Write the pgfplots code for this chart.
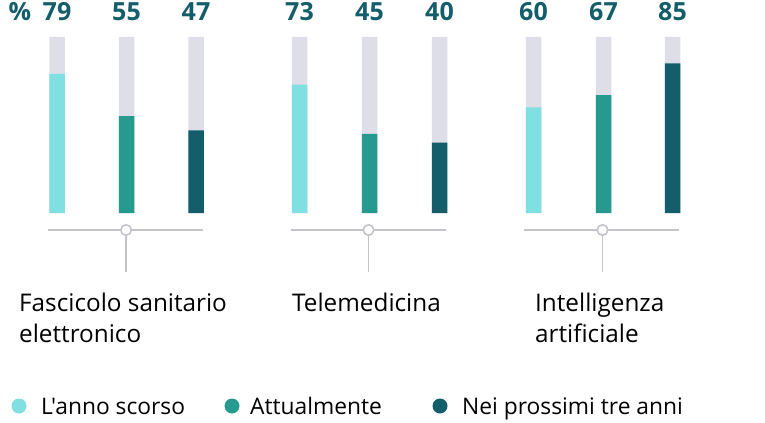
\documentclass[border=0pt]{standalone}
\usepackage{pgfplots}
\pgfplotsset{compat=1.18}
\usepackage{fontspec}
\setmainfont{Open Sans}
\newfontfamily\legfont{Open Sans}[Ligatures=TeXOff]
\definecolor{cLight}{HTML}{80DFE0}
\definecolor{cMid}{HTML}{269A8E}
\definecolor{cDark}{HTML}{135E6A}
\definecolor{cBg}{HTML}{DEDEE8}
\definecolor{cLine}{HTML}{C4C4CF}
\begin{document}
\begin{tikzpicture}[x=1bp,y=1bp]
\path (0,0) rectangle (765,422);
\begin{axis}[
  at={(0bp,209bp)}, anchor=south west, scale only axis,
  width=765bp, height=176bp,
  xmin=0, xmax=765, ymin=0, ymax=100,
  axis lines=none, clip=false,
  ybar, bar width=15.5bp,
  /pgf/number format/assume math mode=true,
]
% background bars (100) carrying the value labels
\addplot[fill=cBg, draw=none, bar shift=0pt, point meta=explicit,
  nodes near coords,
  every node near coord/.append style={anchor=base, yshift=16bp, inner sep=0pt,
    font=\fontsize{25bp}{25bp}\selectfont\bfseries, text=cDark}]
  coordinates {(57,100)[79] (126.5,100)[55] (196,100)[47]
               (299.5,100)[73] (369.5,100)[45] (439.5,100)[40]
               (533.5,100)[60] (603.5,100)[67] (672.5,100)[85]};
\addplot[fill=cLight, draw=none, bar shift=0pt]
  coordinates {(57,79) (299.5,73) (533.5,60)};
\addplot[fill=cMid, draw=none, bar shift=0pt]
  coordinates {(126.5,55) (369.5,45) (603.5,67)};
\addplot[fill=cDark, draw=none, bar shift=0pt]
  coordinates {(196,47) (439.5,40) (672.5,85)};
% percent sign
\node[anchor=base, yshift=16bp, inner sep=0pt, font=\fontsize{25bp}{25bp}\selectfont\bfseries, text=cDark] at (axis cs:20,100) {\%};
% brackets
\draw[cLine, line width=1.6bp] (axis cs:48,-9.66) -- (axis cs:203,-9.66);
\draw[cLine, line width=1.6bp] (axis cs:126,-9.66) -- (axis cs:126,-33.5);
\draw[cLine, line width=1.6bp, fill=white] (axis cs:126,-9.66) circle[radius=5.3bp];
\draw[cLine, line width=1.6bp] (axis cs:291,-9.66) -- (axis cs:446,-9.66);
\draw[cLine, line width=1.6bp] (axis cs:368.5,-9.66) -- (axis cs:368.5,-33.5);
\draw[cLine, line width=1.6bp, fill=white] (axis cs:368.5,-9.66) circle[radius=5.3bp];
\draw[cLine, line width=1.6bp] (axis cs:524,-9.66) -- (axis cs:679,-9.66);
\draw[cLine, line width=1.6bp] (axis cs:602.5,-9.66) -- (axis cs:602.5,-33.5);
\draw[cLine, line width=1.6bp, fill=white] (axis cs:602.5,-9.66) circle[radius=5.3bp];
\end{axis}
% category labels
\begin{scope}[every node/.style={anchor=base west, inner sep=0pt, font=\fontsize{24.3bp}{24.3bp}\selectfont}]
\node at (19,111) {Fascicolo sanitario};
\node at (19,80) {elettronico};
\node at (292,111) {Telemedicina};
\node at (535,111) {Intelligenza};
\node at (535,80) {artificiale};
\end{scope}
% legend
\begin{scope}[every node/.style={anchor=base west, inner sep=0pt, font=\legfont\fontsize{22.8bp}{22.8bp}\selectfont}]
\fill[cLight] (19,16) circle[radius=7.5bp];
\node at (41,8) {L'anno scorso};
\fill[cMid] (232,16) circle[radius=7.5bp];
\node at (250,8) {Attualmente};
\fill[cDark] (440,16) circle[radius=7.5bp];
\node at (462,8) {Nei prossimi tre anni};
\end{scope}
\end{tikzpicture}
\end{document}
